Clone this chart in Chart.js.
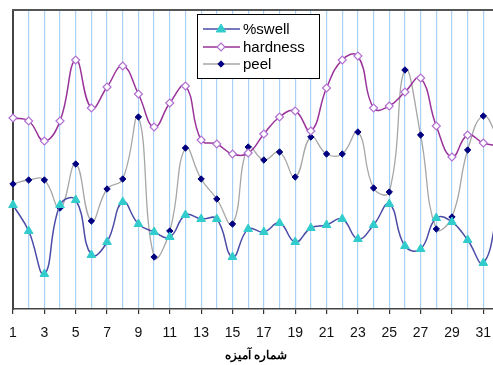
<!DOCTYPE html>
<html>
<head>
<meta charset="utf-8">
<script src="https://cdn.jsdelivr.net/npm/chart.js@4/dist/chart.umd.min.js"></script>
<style>
html,body{margin:0;padding:0;background:#fff;overflow:hidden;width:493px;height:365px;}
canvas{display:block;}
</style>
</head>
<body>
<canvas id="c" width="505" height="365"></canvas>
<script>
// Category labels (compound number)
const categories = ['1','2','3','4','5','6','7','8','9','10','11','12','13','14','15','16',
  '17','18','19','20','21','22','23','24','25','26','27','28','29','30','31','32'];
// Series values (relative units)
const swell = [104,78,35,104,109,54,67,107,85,77,72,94,90,90,52,80,77,86,67,81,84,90,70,84,105,63,60,91,87,69,46,104];
const hardness = [191,188,168,188,249,201,222,243,215,182,206,223,169,165,155,156,175,192,198,178,221,249,253,201,203,217,231,183,152,174,166,163];
const peel = [125,129,129,101,145,88,120,130,192,52,78,161,130,110,85,162,149,157,132,172,155,155,177,121,117,239,174,80,92,159,193,169];
const seriesNames = ['%swell','hardness','peel'];
const axisTitle = 'شماره آمیزه';

const FONT = '"Liberation Sans", Arial, sans-serif';

function drawMarker(ctx, style, r, x, y) {
  if (style === 'triangle') {
    ctx.moveTo(x, y - r);
    ctx.lineTo(x + r * 0.95, y + r * 0.6);
    ctx.lineTo(x - r * 0.95, y + r * 0.6);
    ctx.closePath();
  } else {
    ctx.moveTo(x, y - r);
    ctx.lineTo(x + r, y);
    ctx.lineTo(x, y + r);
    ctx.lineTo(x - r, y);
    ctx.closePath();
  }
}

const frame = {
  id: 'frame',
  afterDraw(chart) {
    const {ctx, chartArea: a} = chart;
    ctx.save();
    ctx.strokeStyle = '#555';
    ctx.lineWidth = 2;
    ctx.beginPath();
    ctx.moveTo(a.left - 1, a.top);
    ctx.lineTo(a.right + 10, a.top);
    ctx.stroke();
    // legend
    const x0 = 197.5, y0 = 14.5, w = 122, h = 64;
    ctx.fillStyle = '#fff';
    ctx.fillRect(x0, y0, w, h);
    ctx.strokeStyle = '#000';
    ctx.lineWidth = 1;
    ctx.strokeRect(x0, y0, w, h);
    const rows = [29, 47, 64];
    chart.data.datasets.forEach((ds, i) => {
      const y = rows[i];
      ctx.strokeStyle = ds.borderColor;
      ctx.lineWidth = ds.borderWidth;
      ctx.beginPath();
      ctx.moveTo(203, y);
      ctx.lineTo(240, y);
      ctx.stroke();
      ctx.fillStyle = ds.pointBackgroundColor;
      ctx.strokeStyle = ds.pointBorderColor;
      ctx.lineWidth = ds.pointBorderWidth;
      ctx.beginPath();
      drawMarker(ctx, ds.pointStyle, ds.pointRadius, 221, y);
      ctx.fill();
      ctx.stroke();
      ctx.fillStyle = '#000';
      ctx.font = '15px ' + FONT;
      ctx.textBaseline = 'middle';
      ctx.textAlign = 'left';
      ctx.fillText(ds.label, 243, y + 1);
    });
    ctx.restore();
  }
};

new Chart(document.getElementById('c'), {
  type: 'line',
  data: {
    labels: categories,
    datasets: [
      {
        label: seriesNames[0], data: swell,
        borderColor: '#4b4ba8', borderWidth: 1.5,
        pointStyle: 'triangle', pointRadius: 5, pointBorderWidth: 1,
        pointBackgroundColor: '#33cccc', pointBorderColor: '#33cccc',
        tension: 0.45
      },
      {
        label: seriesNames[1], data: hardness,
        borderColor: '#993399', borderWidth: 1.5,
        pointStyle: 'rectRot', pointRadius: 4, pointBorderWidth: 1.2,
        pointBackgroundColor: '#ffffff', pointBorderColor: '#b070d0',
        tension: 0.45
      },
      {
        label: seriesNames[2], data: peel,
        borderColor: '#a6a6a6', borderWidth: 1.3,
        pointStyle: 'rectRot', pointRadius: 3.2, pointBorderWidth: 1,
        pointBackgroundColor: '#000080', pointBorderColor: '#000080',
        tension: 0.45
      }
    ]
  },
  options: {
    responsive: false,
    animation: false,
    layout: { padding: { left: 13, top: 10, right: 6, bottom: 0 } },
    plugins: { legend: { display: false }, tooltip: { enabled: false } },
    scales: {
      x: {
        offset: false,
        afterFit: s => { s.height = 56; s.paddingLeft = 0; s.paddingRight = 0; },
        grid: {
          display: true,
          color: ctx => ctx.index === 0 ? 'rgba(0,0,0,0)' : '#a9d1f7',
          lineWidth: 1.2,
          tickColor: ctx => (ctx.index % 2 === 0) ? '#333' : 'rgba(0,0,0,0)',
          tickLength: 5,
          drawTicks: true
        },
        border: { display: true, color: '#444', width: 1.5 },
        ticks: {
          autoSkip: false, maxRotation: 0, padding: 11,
          color: '#111', font: { family: FONT, size: 14 },
          callback: (v, i) => (i % 2 === 0 ? categories[i] : '')
        },
        title: {
          display: true, text: axisTitle, color: '#000',
          font: { family: FONT, size: 12, weight: 'bold' },
          padding: { top: 0, bottom: 2 }
        }
      },
      y: {
        min: 0, max: 299,
        afterFit: s => { s.width = 0; },
        ticks: { display: false },
        grid: { display: true, color: 'rgba(0,0,0,0)', drawTicks: false },
        border: { display: true, color: '#444', width: 2 }
      }
    }
  },
  plugins: [frame]
});
</script>
</body>
</html>
